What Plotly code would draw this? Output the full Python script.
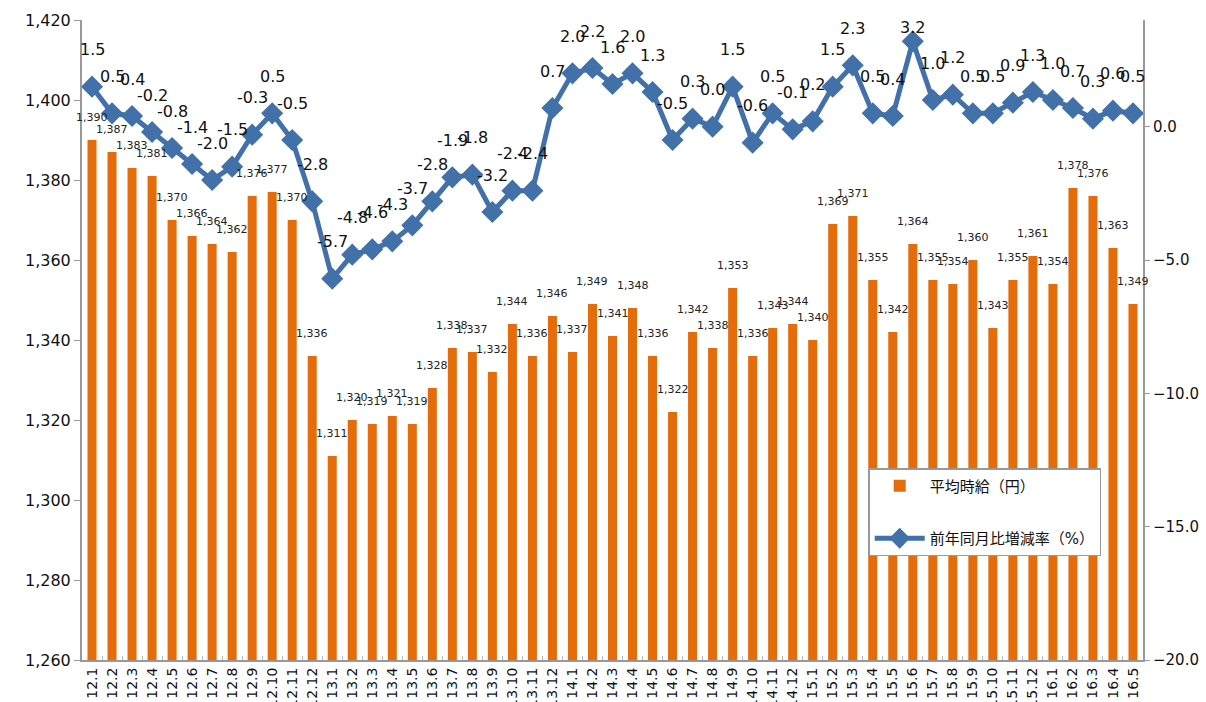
import plotly.graph_objects as go

categories = ["12.1","12.2","12.3","12.4","12.5","12.6","12.7","12.8","12.9","12.10","12.11","12.12",
              "13.1","13.2","13.3","13.4","13.5","13.6","13.7","13.8","13.9","13.10","13.11","13.12",
              "14.1","14.2","14.3","14.4","14.5","14.6","14.7","14.8","14.9","14.10","14.11","14.12",
              "15.1","15.2","15.3","15.4","15.5","15.6","15.7","15.8","15.9","15.10","15.11","15.12",
              "16.1","16.2","16.3","16.4","16.5"]

wage = [1390,1387,1383,1381,1370,1366,1364,1362,1376,1377,1370,1336,
        1311,1320,1319,1321,1319,1328,1338,1337,1332,1344,1336,1346,
        1337,1349,1341,1348,1336,1322,1342,1338,1353,1336,1343,1344,
        1340,1369,1371,1355,1342,1364,1355,1354,1360,1343,1355,1361,
        1354,1378,1376,1363,1349]

yoy = [1.5,0.5,0.4,-0.2,-0.8,-1.4,-2.0,-1.5,-0.3,0.5,-0.5,-2.8,
       -5.7,-4.8,-4.6,-4.3,-3.7,-2.8,-1.9,-1.8,-3.2,-2.4,-2.4,0.7,
       2.0,2.2,1.6,2.0,1.3,-0.5,0.3,0.0,1.5,-0.6,0.5,-0.1,
       0.2,1.5,2.3,0.5,0.4,3.2,1.0,1.2,0.5,0.5,0.9,1.3,
       1.0,0.7,0.3,0.6,0.5]

bar_name = "平均時給（円）"
line_name = "前年同月比増減率（%）"

ORANGE = "#E46C0A"
BLUE = "#4270A8"
FONT = "DejaVu Sans, Noto Sans CJK JP"

Y2_MIN, Y2_MAX = -20, 4
PLOT_TOP, PLOT_H = 20, 640

idx = list(range(len(categories)))

fig = go.Figure()
fig.add_trace(go.Bar(x=idx, y=wage, name=bar_name, marker_color=ORANGE,
                     marker_line_width=0, width=0.45, legendgroup="a"))
fig.add_trace(go.Scatter(x=idx, y=yoy, name=line_name, yaxis="y2",
                         mode="lines+markers", line=dict(color=BLUE, width=5),
                         marker=dict(symbol="diamond", size=17, color=BLUE),
                         legendgroup="b"))

annotations = []
for i, v in zip(idx, wage):
    annotations.append(dict(x=i, y=v, xref="x", yref="y", text=f"{v:,}", showarrow=False,
                            yshift=23, font=dict(size=11, color="#222", family=FONT)))
for i, v in zip(idx, yoy):
    # keep labels inside the chart area (as the original does for the top-most point)
    marker_px = PLOT_TOP + (Y2_MAX - v) / (Y2_MAX - Y2_MIN) * PLOT_H
    shift = min(37, marker_px - 28)
    annotations.append(dict(x=i, y=v, xref="x", yref="y2", text=f"{v:.1f}", showarrow=False,
                            yshift=shift, font=dict(size=16, color="#111", family=FONT)))

fig.update_layout(
    width=1206, height=702,
    margin=dict(l=82, r=63, t=PLOT_TOP, b=42),
    paper_bgcolor="white", plot_bgcolor="white",
    font=dict(family=FONT, color="#111"),
    showlegend=True,
    legend=dict(x=0.741, y=0.3, xanchor="left", yanchor="top",
                bgcolor="white", bordercolor="#999", borderwidth=1.5,
                font=dict(size=15, family=FONT), tracegroupgap=30,
                itemwidth=50),
    xaxis=dict(range=[-0.5, len(categories) - 0.5], tickmode="array",
               tickvals=idx, ticktext=categories, tickangle=-90, tickfont=dict(size=14),
               showline=True, linecolor="#999", linewidth=2,
               ticks="", automargin=False, showgrid=False, zeroline=False,
               minor=dict(tickvals=[i + 0.5 for i in idx[:-1]], ticks="inside",
                          ticklen=4, tickcolor="#bbb", showgrid=False)),
    yaxis=dict(range=[1260, 1420], dtick=20, tickformat=",", tickfont=dict(size=16),
               showline=True, linecolor="#999", linewidth=2, ticks="outside",
               ticklen=6, tickcolor="#999", showgrid=False, zeroline=False,
               automargin=False),
    yaxis2=dict(range=[Y2_MIN, Y2_MAX], tickvals=[-20, -15, -10, -5, 0], tickformat=".1f",
                overlaying="y", side="right", tickfont=dict(size=15),
                showline=True, linecolor="#999", linewidth=2, ticks="outside",
                ticklen=5, tickcolor="#999", showgrid=False, zeroline=False,
                automargin=False),
    annotations=annotations,
)

fig.write_html("out.html", config={"displayModeBar": False},
               post_script="document.body.style.margin='0px';document.body.style.overflow='hidden';")
